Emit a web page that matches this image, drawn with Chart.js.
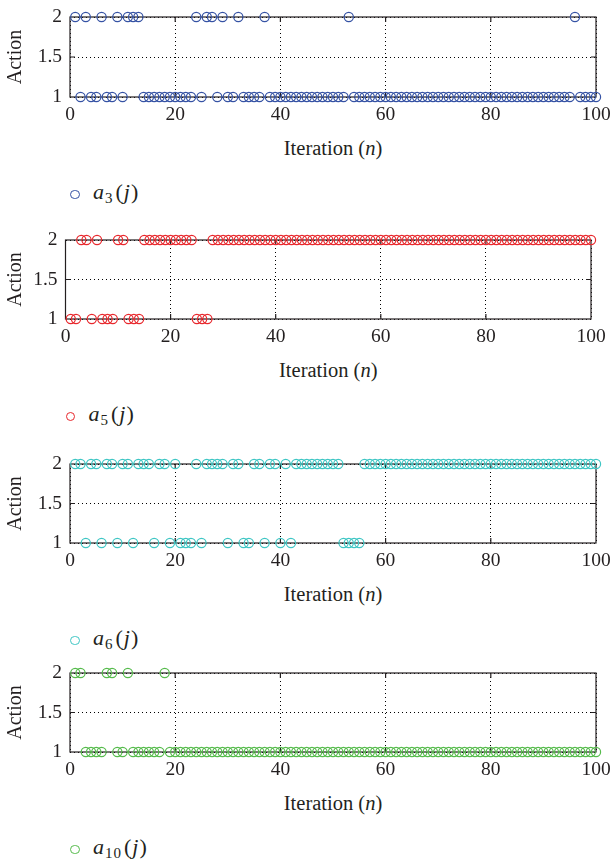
<!DOCTYPE html>
<html>
<head>
<meta charset="utf-8">
<script src="https://cdn.jsdelivr.net/npm/chart.js@4.4.1/dist/chart.umd.min.js"></script>
<style>
  html, body { margin:0; padding:0; background:#fff; width:611px; height:864px; overflow:hidden; }
  body { position:relative; font-family:"Liberation Serif", "DejaVu Serif", serif; color:#231f20; }
  .panel { position:absolute; left:0; }
  .xlabel { position:absolute; font-size:20.5px; line-height:20px; white-space:nowrap; transform:translateX(-50%); }
  .legend { position:absolute; font-size:22px; line-height:22px; white-space:nowrap; letter-spacing:1px; }
  .legend sub { font-size:15px; vertical-align:-4px; line-height:0; margin-right:2px; }
  .mark { position:absolute; width:7.5px; height:7.5px; border-radius:50%; border:1.3px solid; }
</style>
</head>
<body>
<script>
// ---- data ----
const iterations = [
  1, 2, 3, 4, 5, 6, 7, 8, 9, 10,
  11,12,13,14,15,16,17,18,19,20,
  21,22,23,24,25,26,27,28,29,30,
  31,32,33,34,35,36,37,38,39,40,
  41,42,43,44,45,46,47,48,49,50,
  51,52,53,54,55,56,57,58,59,60,
  61,62,63,64,65,66,67,68,69,70,
  71,72,73,74,75,76,77,78,79,80,
  81,82,83,84,85,86,87,88,89,90,
  91,92,93,94,95,96,97,98,99,100
];
const a3 = [
  2,1,2,1,1,2,1,1,2,1,
  2,2,2,1,1,1,1,1,1,1,
  1,1,1,2,1,2,2,1,2,1,
  1,2,1,1,1,1,2,1,1,1,
  1,1,1,1,1,1,1,1,1,1,
  1,1,2,1,1,1,1,1,1,1,
  1,1,1,1,1,1,1,1,1,1,
  1,1,1,1,1,1,1,1,1,1,
  1,1,1,1,1,1,1,1,1,1,
  1,1,1,1,1,2,1,1,1,1
];
const a5 = [
  1,1,2,2,1,2,1,1,1,2,
  2,1,1,1,2,2,2,2,2,2,
  2,2,2,2,1,1,1,2,2,2,
  2,2,2,2,2,2,2,2,2,2,
  2,2,2,2,2,2,2,2,2,2,
  2,2,2,2,2,2,2,2,2,2,
  2,2,2,2,2,2,2,2,2,2,
  2,2,2,2,2,2,2,2,2,2,
  2,2,2,2,2,2,2,2,2,2,
  2,2,2,2,2,2,2,2,2,2
];
const a6 = [
  2,2,1,2,2,1,2,2,1,2,
  2,1,2,2,2,1,2,2,1,2,
  1,1,1,2,1,2,2,2,2,1,
  2,2,1,1,2,2,1,2,2,1,
  2,1,2,2,2,2,2,2,2,2,
  2,1,1,1,1,2,2,2,2,2,
  2,2,2,2,2,2,2,2,2,2,
  2,2,2,2,2,2,2,2,2,2,
  2,2,2,2,2,2,2,2,2,2,
  2,2,2,2,2,2,2,2,2,2
];
const a10 = [
  2,2,1,1,1,1,2,2,1,1,
  2,1,1,1,1,1,1,2,1,1,
  1,1,1,1,1,1,1,1,1,1,
  1,1,1,1,1,1,1,1,1,1,
  1,1,1,1,1,1,1,1,1,1,
  1,1,1,1,1,1,1,1,1,1,
  1,1,1,1,1,1,1,1,1,1,
  1,1,1,1,1,1,1,1,1,1,
  1,1,1,1,1,1,1,1,1,1,
  1,1,1,1,1,1,1,1,1,1
];
const xTicks = [0, 20, 40, 60, 80, 100];
const yTicks = [1, 1.5, 2];
const seriesNames = ['3', '5', '6', '10'];
const seriesValues = [a3, a5, a6, a10];
const colors = ['#3552a4', '#e8282d', '#3ec6c4', '#55bb4b'];

// ---- layout (pixel geometry of each panel's plot box) ----
const panels = [
  { L: 70,   R: 596, T: 17,  B: 97  },
  { L: 65.5, R: 591, T: 240, B: 319 },
  { L: 70,   R: 596, T: 464, B: 543 },
  { L: 70,   R: 596, T: 673, B: 752 }
];
const CW = 640, PADTOP = 20, XAXH = 40;
const FONT = '"Liberation Serif", "DejaVu Serif", serif';
const INK = '#231f20';

const boxPlugin = {
  id: 'box',
  beforeDatasetsDraw(chart) {
    const { ctx, chartArea: a, scales } = chart;
    ctx.save();
    ctx.strokeStyle = INK;
    ctx.lineWidth = 1.2;
    ctx.beginPath();
    xTicks.slice(1, -1).forEach(v => {
      const px = scales.x.getPixelForValue(v);
      ctx.moveTo(px, a.top); ctx.lineTo(px, a.top + 5);
      ctx.moveTo(px, a.bottom); ctx.lineTo(px, a.bottom - 5);
    });
    yTicks.slice(1, -1).forEach(v => {
      const py = scales.y.getPixelForValue(v);
      ctx.moveTo(a.left, py); ctx.lineTo(a.left + 5, py);
      ctx.moveTo(a.right, py); ctx.lineTo(a.right - 5, py);
    });
    ctx.stroke();
    ctx.strokeRect(a.left, a.top, a.right - a.left, a.bottom - a.top);
    ctx.restore();
  }
};

panels.forEach((p, i) => {
  const H = (p.B - p.T) + PADTOP + XAXH;
  const div = document.createElement('div');
  div.className = 'panel';
  div.style.top = (p.T - PADTOP) + 'px';
  div.style.width = CW + 'px';
  div.style.height = H + 'px';
  const cv = document.createElement('canvas');
  cv.width = CW; cv.height = H;
  cv.style.width = CW + 'px'; cv.style.height = H + 'px';
  div.appendChild(cv);
  document.body.appendChild(div);

  const values = seriesValues[i];
  new Chart(cv, {
    type: 'scatter',
    data: {
      datasets: [{
        label: 'a' + seriesNames[i] + '(j)',
        data: iterations.map((n, k) => ({ x: n, y: values[k] })),
        borderColor: colors[i],
        backgroundColor: 'rgba(0,0,0,0)',
        pointStyle: 'circle',
        pointRadius: 4.6,
        pointBorderWidth: 1.2,
        pointHoverRadius: 4.6,
        showLine: false,
        clip: false
      }]
    },
    options: {
      responsive: false,
      animation: false,
      devicePixelRatio: 1,
      layout: { padding: { top: PADTOP, left: 0, right: CW - p.R, bottom: 0 } },
      plugins: { legend: { display: false }, tooltip: { enabled: false } },
      scales: {
        x: {
          type: 'linear', min: 0, max: 100,
          afterFit: s => { s.height = XAXH; },
          afterBuildTicks: s => { s.ticks = xTicks.map(v => ({ value: v })); },
          ticks: { font: { family: FONT, size: 19.5 }, color: INK, padding: 6, maxRotation: 0, autoSkip: false },
          grid: { color: '#000', lineWidth: 1, drawTicks: false },
          border: { display: false, dash: [1, 3] }
        },
        y: {
          type: 'linear', min: 1, max: 2,
          afterFit: s => { s.width = p.L; },
          afterBuildTicks: s => { s.ticks = yTicks.map(v => ({ value: v })); },
          ticks: { font: { family: FONT, size: 19.5 }, color: INK, padding: 8, callback: v => String(v) },
          grid: { color: '#000', lineWidth: 1, drawTicks: false },
          border: { display: false, dash: [1, 3] },
          title: { display: true, text: 'Action', font: { family: FONT, size: 20 }, color: INK, padding: { top: 3.5, bottom: 0 } }
        }
      }
    },
    plugins: [boxPlugin]
  });

  const xl = document.createElement('div');
  xl.className = 'xlabel';
  xl.style.left = ((p.L + p.R) / 2) + 'px';
  xl.style.top = (p.B + 40.5) + 'px';
  xl.innerHTML = 'Iteration (<i>n</i>)';
  document.body.appendChild(xl);

  const cx = p.L + 5, cy = p.B + 97.5;
  const mk = document.createElement('div');
  mk.className = 'mark';
  mk.style.borderColor = colors[i];
  mk.style.left = (cx - 5) + 'px';
  mk.style.top = (cy - 5) + 'px';
  document.body.appendChild(mk);
  const lg = document.createElement('div');
  lg.className = 'legend';
  lg.style.left = (cx + 18) + 'px';
  lg.style.top = (p.B + 84) + 'px';
  lg.innerHTML = '<i>a</i><sub>' + seriesNames[i] + '</sub>(<i>j</i>)';
  document.body.appendChild(lg);
});
</script>
</body>
</html>
